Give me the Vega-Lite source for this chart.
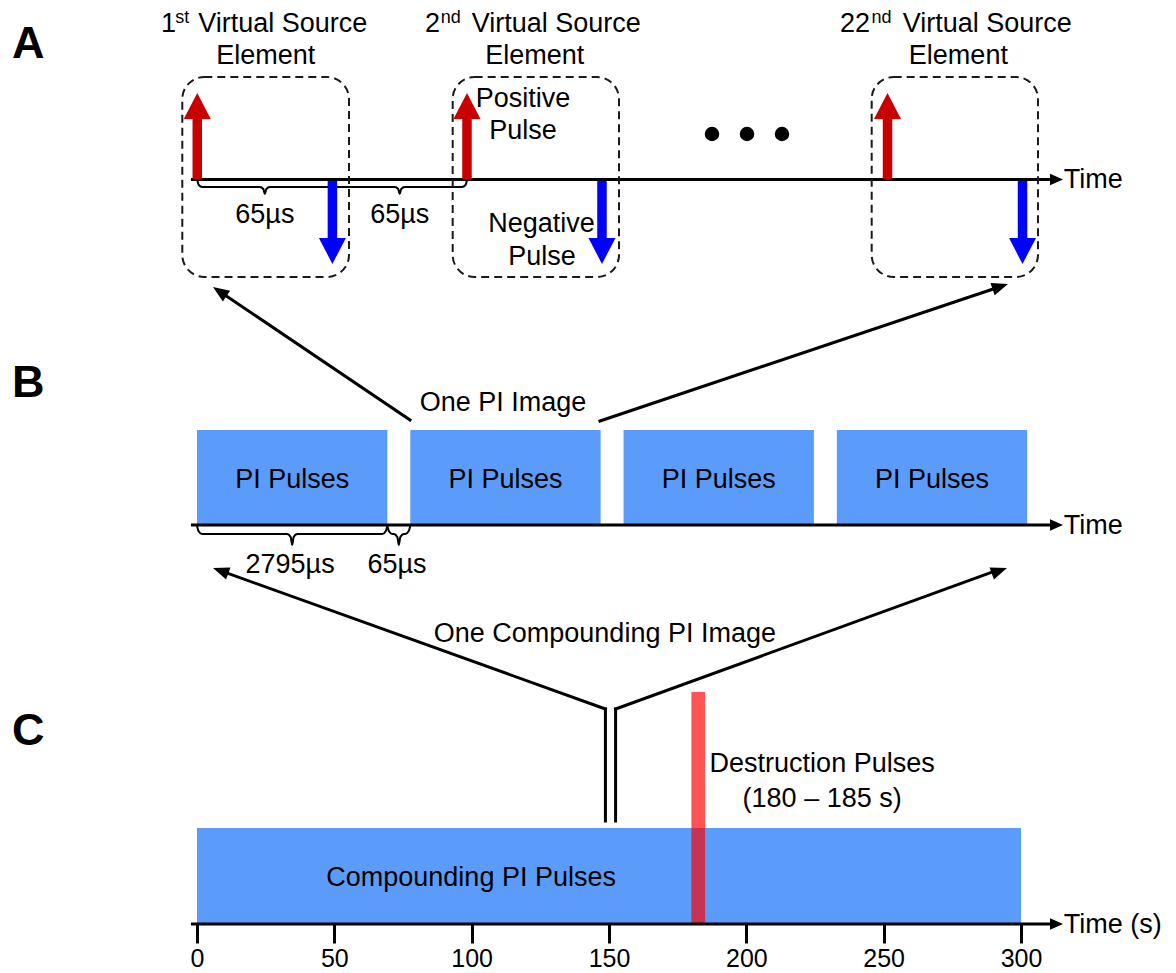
{
  "$schema": "https://vega.github.io/schema/vega-lite/v6.json",
  "width": 1176,
  "height": 924,
  "padding": 0,
  "background": "white",
  "config": {"view": {"stroke": null}, "font": "Liberation Sans"},
  "datasets": {
    "blocks": [
      {"x": 0, "x2": 69.3, "y": 430, "y2": 525},
      {"x": 77.65, "x2": 146.95, "y": 430, "y2": 525},
      {"x": 155.3, "x2": 224.6, "y": 430, "y2": 525},
      {"x": 232.95, "x2": 302.25, "y": 430, "y2": 525},
      {"x": 0, "x2": 300, "y": 828, "y2": 924}
    ],
    "destruction": [{"x": 180, "x2": 185, "y": 692, "y2": 924}],
    "timelines": [
      {"x": -2.2, "x2": 312.3, "y": 179.5},
      {"x": -2.2, "x2": 312.3, "y": 525},
      {"x": -2.2, "x2": 312.3, "y": 924}
    ],
    "timeheads": [
      {"x": 315.3, "y": 179.5},
      {"x": 315.3, "y": 525},
      {"x": 315.3, "y": 924}
    ],
    "braces": [
      {"brace": "A1", "x": 0.1, "y": 180}, {"brace": "A1", "x": 0.65, "y": 185}, {"brace": "A1", "x": 1.92, "y": 187}, {"brace": "A1", "x": 22.88, "y": 187}, {"brace": "A1", "x": 24.15, "y": 189}, {"brace": "A1", "x": 24.7, "y": 194}, {"brace": "A1", "x": 25.25, "y": 189}, {"brace": "A1", "x": 26.52, "y": 187}, {"brace": "A1", "x": 47.48, "y": 187}, {"brace": "A1", "x": 48.75, "y": 185}, {"brace": "A1", "x": 49.3, "y": 180},
      {"brace": "A2", "x": 49.3, "y": 180}, {"brace": "A2", "x": 49.85, "y": 185}, {"brace": "A2", "x": 51.12, "y": 187}, {"brace": "A2", "x": 71.98, "y": 187}, {"brace": "A2", "x": 73.25, "y": 189}, {"brace": "A2", "x": 73.8, "y": 194}, {"brace": "A2", "x": 74.35, "y": 189}, {"brace": "A2", "x": 75.62, "y": 187}, {"brace": "A2", "x": 96.48, "y": 187}, {"brace": "A2", "x": 97.75, "y": 185}, {"brace": "A2", "x": 98.3, "y": 180},
      {"brace": "B1", "x": 0, "y": 526}, {"brace": "B1", "x": 0.55, "y": 531}, {"brace": "B1", "x": 1.82, "y": 534}, {"brace": "B1", "x": 32.83, "y": 534}, {"brace": "B1", "x": 34.1, "y": 537}, {"brace": "B1", "x": 34.65, "y": 545}, {"brace": "B1", "x": 35.2, "y": 537}, {"brace": "B1", "x": 36.47, "y": 534}, {"brace": "B1", "x": 67.48, "y": 534}, {"brace": "B1", "x": 68.75, "y": 531}, {"brace": "B1", "x": 69.3, "y": 526},
      {"brace": "B2", "x": 69.3, "y": 526}, {"brace": "B2", "x": 69.85, "y": 531}, {"brace": "B2", "x": 71.12, "y": 534}, {"brace": "B2", "x": 71.66, "y": 534}, {"brace": "B2", "x": 72.93, "y": 537}, {"brace": "B2", "x": 73.48, "y": 545}, {"brace": "B2", "x": 74.03, "y": 537}, {"brace": "B2", "x": 75.3, "y": 534}, {"brace": "B2", "x": 75.83, "y": 534}, {"brace": "B2", "x": 77.1, "y": 531}, {"brace": "B2", "x": 77.65, "y": 526}
    ],
    "boxes": [
      {"x": -5.35, "x2": 55.34, "y": 77, "y2": 277},
      {"x": 93.09, "x2": 153.64, "y": 77, "y2": 277},
      {"x": 245.64, "x2": 306.18, "y": 77, "y2": 277}
    ],
    "pulses": [
      {"x": 0.1, "polarity": "positive", "y": 179, "y2": 118, "tip": 93},
      {"x": 98.3, "polarity": "positive", "y": 179, "y2": 118, "tip": 93},
      {"x": 251.4, "polarity": "positive", "y": 179, "y2": 118, "tip": 93},
      {"x": 49.3, "polarity": "negative", "y": 181, "y2": 239, "tip": 264},
      {"x": 147.45, "polarity": "negative", "y": 181, "y2": 239, "tip": 264},
      {"x": 300.55, "polarity": "negative", "y": 181, "y2": 239, "tip": 264}
    ],
    "connectors": [
      {"x": 77.55, "y": 420, "x2": 8.85, "y2": 292.6},
      {"x": 146.72, "y": 421, "x2": 291.8, "y2": 287.2},
      {"x": 148.7, "y": 709, "x2": 9.25, "y2": 571.4},
      {"x": 152.4, "y": 709, "x2": 290.2, "y2": 571.4},
      {"x": 148.7, "y": 709, "x2": 148.7, "y2": 821},
      {"x": 152.4, "y": 709, "x2": 152.4, "y2": 821}
    ],
    "dots": [
      {"x": 187.5, "y": 134},
      {"x": 200.24, "y": 134},
      {"x": 212.98, "y": 134}
    ],
    "centerText": [
      {"x": 25.0, "y": 64.3, "label": "Element"},
      {"x": 123.0, "y": 64.3, "label": "Element"},
      {"x": 277.2, "y": 64.3, "label": "Element"},
      {"x": 118.7, "y": 106.7, "label": "Positive"},
      {"x": 118.7, "y": 139.3, "label": "Pulse"},
      {"x": 125.4, "y": 231.7, "label": "Negative"},
      {"x": 125.6, "y": 265, "label": "Pulse"},
      {"x": 24.7, "y": 223.3, "label": "65µs"},
      {"x": 73.8, "y": 223.3, "label": "65µs"},
      {"x": 111.4, "y": 410.7, "label": "One PI Image"},
      {"x": 34.65, "y": 488.3, "label": "PI Pulses"},
      {"x": 112.3, "y": 488.3, "label": "PI Pulses"},
      {"x": 189.95, "y": 488.3, "label": "PI Pulses"},
      {"x": 267.6, "y": 488.3, "label": "PI Pulses"},
      {"x": 33.9, "y": 573.3, "label": "2795µs"},
      {"x": 72.8, "y": 573.3, "label": "65µs"},
      {"x": 148.5, "y": 641.7, "label": "One Compounding PI Image"},
      {"x": 99.8, "y": 886, "label": "Compounding PI Pulses"},
      {"x": 227.6, "y": 772, "label": "Destruction Pulses"},
      {"x": 227.6, "y": 807, "label": "(180 – 185 s)"}
    ],
    "leftText": [
      {"x": 315.6, "y": 188.3, "label": "Time"},
      {"x": 315.6, "y": 534, "label": "Time"},
      {"x": 315.6, "y": 933, "label": "Time (s)"},
      {"x": 0.47, "y": 31.7, "label": "Virtual Source"},
      {"x": 100.01, "y": 31.7, "label": "Virtual Source"},
      {"x": 256.93, "y": 31.7, "label": "Virtual Source"}
    ],
    "rightText": [
      {"x": -7.6, "y": 31.7, "label": "1"},
      {"x": 88.47, "y": 31.7, "label": "2"},
      {"x": 245.02, "y": 31.7, "label": "22"}
    ],
    "supText": [
      {"x": -7.95, "y": 23.3, "label": "st"},
      {"x": 88.7, "y": 23.3, "label": "nd"},
      {"x": 245.6, "y": 23.3, "label": "nd"}
    ],
    "panels": [
      {"x": -67.35, "y": 58, "label": "A"},
      {"x": -67.35, "y": 397, "label": "B"},
      {"x": -67.35, "y": 745, "label": "C"}
    ]
  },
  "encoding": {
    "x": {
      "field": "x",
      "type": "quantitative",
      "scale": {"domain": [-71.72, 356.43], "nice": false, "zero": false},
      "axis": {
        "orient": "bottom",
        "values": [0, 50, 100, 150, 200, 250, 300],
        "format": "d",
        "domain": false,
        "grid": false,
        "ticks": true,
        "tickSize": 19,
        "tickWidth": 3,
        "tickColor": "black",
        "labelFontSize": 25,
        "labelFont": "Liberation Sans",
        "labelColor": "black",
        "labelPadding": 3,
        "labelFlush": false,
        "labelOverlap": false,
        "title": null
      }
    },
    "y": {
      "field": "y",
      "type": "quantitative",
      "scale": {"domain": [0, 924], "reverse": true, "nice": false, "zero": false},
      "axis": null
    }
  },
  "layer": [
    {
      "data": {"name": "blocks"},
      "mark": {"type": "rect", "color": "#5b9cfb"},
      "encoding": {"x2": {"field": "x2"}, "y2": {"field": "y2"}}
    },
    {
      "data": {"name": "destruction"},
      "mark": {"type": "rect", "color": "#ff0000", "opacity": 0.67},
      "encoding": {"x2": {"field": "x2"}, "y2": {"field": "y2"}}
    },
    {
      "data": {"name": "timelines"},
      "mark": {"type": "rule", "color": "black", "strokeWidth": 3},
      "encoding": {"x2": {"field": "x2"}}
    },
    {
      "data": {"name": "timeheads"},
      "mark": {"type": "point", "shape": "M0,0L-2,-0.9L-2,0.9Z", "size": 169, "filled": true, "color": "black", "opacity": 1, "strokeWidth": 0}
    },
    {
      "data": {"name": "braces"},
      "mark": {"type": "line", "color": "black", "strokeWidth": 2, "interpolate": "monotone"},
      "encoding": {"detail": {"field": "brace", "type": "nominal"}}
    },
    {
      "data": {"name": "boxes"},
      "mark": {"type": "rect", "fill": "transparent", "stroke": "#1a1a1a", "strokeWidth": 2, "strokeDash": [8, 5], "cornerRadius": 22},
      "encoding": {"x2": {"field": "x2"}, "y2": {"field": "y2"}}
    },
    {
      "data": {"name": "pulses"},
      "mark": {"type": "rule", "strokeWidth": 9.5},
      "encoding": {
        "y2": {"field": "y2"},
        "color": {"field": "polarity", "type": "nominal", "scale": {"domain": ["positive", "negative"], "range": ["#c80000", "#0000ff"]}, "legend": null}
      }
    },
    {
      "data": {"name": "pulses"},
      "transform": [{"filter": "datum.polarity === 'positive'"}],
      "mark": {"type": "point", "shape": "M0,0L-1,1.93L1,1.93Z", "size": 729, "filled": true, "color": "#c80000", "opacity": 1, "strokeWidth": 0},
      "encoding": {"y": {"field": "tip", "type": "quantitative"}}
    },
    {
      "data": {"name": "pulses"},
      "transform": [{"filter": "datum.polarity === 'negative'"}],
      "mark": {"type": "point", "shape": "M0,0L-1,-1.93L1,-1.93Z", "size": 729, "filled": true, "color": "#0000ff", "opacity": 1, "strokeWidth": 0},
      "encoding": {"y": {"field": "tip", "type": "quantitative"}}
    },
    {
      "data": {"name": "connectors"},
      "mark": {"type": "rule", "color": "black", "strokeWidth": 3, "strokeCap": "square"},
      "encoding": {"x2": {"field": "x2"}, "y2": {"field": "y2"}}
    },
    {
      "data": {"values": [{"x": 5.83, "y": 287}]},
      "mark": {"type": "point", "shape": "M0,0L-0.8,2L0.8,2Z", "size": 264, "angle": 304, "filled": true, "color": "black", "opacity": 1, "strokeWidth": 0}
    },
    {
      "data": {"values": [{"x": 295.26, "y": 284}]},
      "mark": {"type": "point", "shape": "M0,0L-0.8,2L0.8,2Z", "size": 264, "angle": 71.4, "filled": true, "color": "black", "opacity": 1, "strokeWidth": 0}
    },
    {
      "data": {"values": [{"x": 5.83, "y": 568}]},
      "mark": {"type": "point", "shape": "M0,0L-0.8,2L0.8,2Z", "size": 264, "angle": 289.8, "filled": true, "color": "black", "opacity": 1, "strokeWidth": 0}
    },
    {
      "data": {"values": [{"x": 294.9, "y": 568}]},
      "mark": {"type": "point", "shape": "M0,0L-0.8,2L0.8,2Z", "size": 264, "angle": 70.2, "filled": true, "color": "black", "opacity": 1, "strokeWidth": 0}
    },
    {
      "data": {"name": "dots"},
      "mark": {"type": "point", "shape": "circle", "size": 210, "filled": true, "color": "black", "opacity": 1, "strokeWidth": 0}
    },
    {
      "data": {"name": "centerText"},
      "mark": {"type": "text", "align": "center", "baseline": "alphabetic", "fontSize": 27, "font": "Liberation Sans", "color": "black"},
      "encoding": {"text": {"field": "label", "type": "nominal"}}
    },
    {
      "data": {"name": "leftText"},
      "mark": {"type": "text", "align": "left", "baseline": "alphabetic", "fontSize": 27, "font": "Liberation Sans", "color": "black"},
      "encoding": {"text": {"field": "label", "type": "nominal"}}
    },
    {
      "data": {"name": "rightText"},
      "mark": {"type": "text", "align": "right", "baseline": "alphabetic", "fontSize": 27, "font": "Liberation Sans", "color": "black"},
      "encoding": {"text": {"field": "label", "type": "nominal"}}
    },
    {
      "data": {"name": "supText"},
      "mark": {"type": "text", "align": "left", "baseline": "alphabetic", "fontSize": 18, "font": "Liberation Sans", "color": "black"},
      "encoding": {"text": {"field": "label", "type": "nominal"}}
    },
    {
      "data": {"name": "panels"},
      "mark": {"type": "text", "align": "left", "baseline": "alphabetic", "fontSize": 45, "fontWeight": "bold", "font": "Liberation Sans", "color": "black"},
      "encoding": {"text": {"field": "label", "type": "nominal"}}
    }
  ]
}
